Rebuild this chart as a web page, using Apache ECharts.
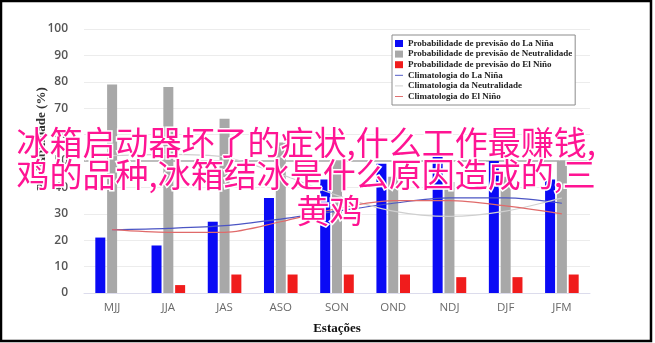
<!DOCTYPE html>
<html>
<head>
<meta charset="utf-8">
<script src="https://cdn.jsdelivr.net/npm/echarts@6/dist/echarts.min.js"></script>
<style>
html,body{margin:0;padding:0;background:#fff;}
#c{width:655px;height:343px;}
</style>
</head>
<body>
<div id="c"></div>
<script>
// ---- data ----
var categories = ['MJJ','JJA','JAS','ASO','SON','OND','NDJ','DJF','JFM'];
var laNinaProb  = [21, 18, 27, 36, 43, 49, 52, 50, 43];
var neutralProb = [79, 78, 66, 57, 50, 44, 42, 44, 50];
var elNinoProb  = [0, 3, 7, 7, 7, 7, 6, 6, 7];
var laNinaClim  = [24, 24.5, 25.5, 28, 31, 34, 36, 36, 34];
var neutralClim = [52, 52.5, 51.5, 45, 37, 31, 29, 31, 36];
var elNinoClim  = [24, 23, 23, 27, 32, 35, 35, 33, 30];
var yTicks = [0,10,20,30,40,50,60,70,80,90,100];
var seriesNames = [
  'Probabilidade de previsão do La Niña',
  'Probabilidade de previsão de Neutralidade',
  'Probabilidade de previsão do El Niño',
  'Climatologia do La Niña',
  'Climatologia da Neutralidade',
  'Climatologia do El Niño'
];
var overlayLines = ['冰箱启动器坏了的症状,什么工作最赚钱,', '鸡的品种,冰箱结冰是什么原因造成的,三', '黄鸡'];

var chart = echarts.init(document.getElementById('c'));
var barBase = {type:'bar', barWidth:10, barGap:'18%'};
var lineIcon = 'path://M0,3.4L10,3.4L10,4.6L0,4.6Z';
var option = {
  animation:false,
  backgroundColor:'#fff',
  grid:{left:84, right:65, top:29, bottom:50},
  legend:{
    orient:'vertical', left:392, top:35,
    padding:[4,3,4,3],
    backgroundColor:'#fff', borderColor:'#8c8c8c', borderWidth:1,
    itemWidth:8, itemHeight:7, itemGap:1.6,
    textStyle:{fontFamily:'Liberation Serif', fontWeight:'bold', fontSize:9, lineHeight:9, color:'#222'},
    data:[
      {name:seriesNames[0], icon:'rect'},
      {name:seriesNames[1], icon:'rect'},
      {name:seriesNames[2], icon:'rect'},
      {name:seriesNames[3], icon:lineIcon},
      {name:seriesNames[4], icon:lineIcon},
      {name:seriesNames[5], icon:lineIcon}
    ]
  },
  xAxis:{
    type:'category', data:categories,
    axisLine:{lineStyle:{color:'#dcdcec'}},
    axisTick:{show:false},
    axisLabel:{fontFamily:'Open Sans', fontSize:11.5, color:'#6a6a6a', margin:9},
    name:'Estações', nameLocation:'middle', nameGap:29,
    nameTextStyle:{fontFamily:'Liberation Serif', fontWeight:'bold', fontSize:13, color:'#111'}
  },
  yAxis:{
    type:'value', min:yTicks[0], max:yTicks[yTicks.length-1], interval:10,
    axisLine:{show:false}, axisTick:{show:false},
    splitLine:{lineStyle:{color:'#ececec', width:1}},
    axisLabel:{fontFamily:'Open Sans', fontWeight:600, fontSize:12, color:'#555', margin:16},
    name:'Probabilidade (%)', nameLocation:'middle', nameGap:36, nameMoveOverlap:false,
    nameTextStyle:{fontFamily:'Liberation Serif', fontWeight:'bold', fontSize:13, color:'#333', padding:[0,0,0,44]}
  },
  series:[
    Object.assign({}, barBase, {name:seriesNames[0], data:laNinaProb, itemStyle:{color:'#0a0af5'},
      markLine:{silent:true, symbol:'none', label:{show:false}, lineStyle:{color:'#bdbdbd', width:2, type:'solid'}, data:[{yAxis:50}], z:1}}),
    Object.assign({}, barBase, {name:seriesNames[1], data:neutralProb, itemStyle:{color:'#a8a8a8'}}),
    Object.assign({}, barBase, {name:seriesNames[2], data:elNinoProb, itemStyle:{color:'#f01c1c'}}),
    {type:'line', name:seriesNames[3], data:laNinaClim, symbol:'none', smooth:0.3, lineStyle:{color:'#4b55c4', width:1.2}, itemStyle:{color:'#4b55c4'}, z:5},
    {type:'line', name:seriesNames[4], data:neutralClim, symbol:'none', smooth:0.3, lineStyle:{color:'#cfcfcf', width:1.2}, itemStyle:{color:'#cfcfcf'}, z:5},
    {type:'line', name:seriesNames[5], data:elNinoClim, symbol:'none', smooth:0.3, lineStyle:{color:'#e06a6a', width:1.2}, itemStyle:{color:'#e06a6a'}, z:5}
  ],
  graphic:[
    {type:'rect', shape:{x:1, y:1, width:650, height:340}, style:{fill:null, stroke:'#000', lineWidth:2.5}, z:100},
    {type:'text', left:15, top:124, z:110, style:{text:overlayLines[0], font:'normal 33px "Noto Sans CJK SC"', fill:'#ff1493', stroke:'#fff', lineWidth:3}},
    {type:'text', left:15, top:156, z:110, style:{text:overlayLines[1], font:'normal 33px "Noto Sans CJK SC"', fill:'#ff1493', stroke:'#fff', lineWidth:3}},
    {type:'text', left:295, top:192, z:110, style:{text:overlayLines[2], font:'normal 33px "Noto Sans CJK SC"', fill:'#ff1493', stroke:'#fff', lineWidth:3}}
  ]
};
chart.setOption(option);
</script>
</body>
</html>
